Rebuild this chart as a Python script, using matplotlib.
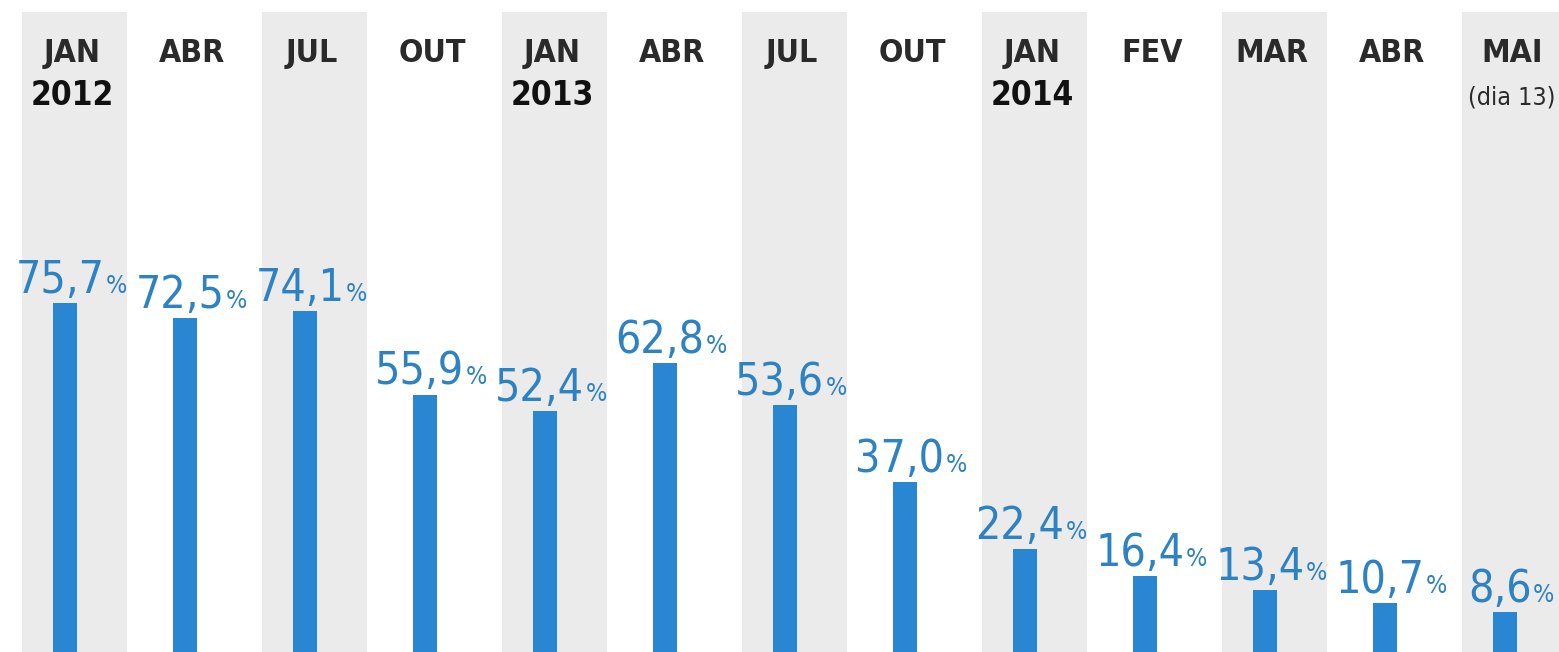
import matplotlib
matplotlib.use("Agg")
import matplotlib.pyplot as plt
from matplotlib import font_manager

months = ["JAN", "ABR", "JUL", "OUT", "JAN", "ABR", "JUL", "OUT", "JAN", "FEV", "MAR", "ABR", "MAI"]
sublabels = ["2012", "", "", "", "2013", "", "", "", "2014", "", "", "", "(dia 13)"]
values = [75.7, 72.5, 74.1, 55.9, 52.4, 62.8, 53.6, 37.0, 22.4, 16.4, 13.4, 10.7, 8.6]


def pick_family():
    for fam in ["Liberation Sans Narrow", "DejaVu Sans"]:
        try:
            font_manager.findfont(font_manager.FontProperties(family=fam), fallback_to_default=False)
            return fam
        except Exception:
            pass
    return "DejaVu Sans"


FAM = pick_family()
STRETCH = "condensed"

BAR_C = "#2986d2"
LAB_C = "#2d82c4"
GRAY = "#ebebeb"

W, H = 1559, 652
fig = plt.figure(figsize=(W / 100, H / 100), dpi=100)
ax = fig.add_axes([0, 0, 1, 1])
ax.set_xlim(-0.542, 12.45)
ax.set_ylim(0, 141.6)
ax.axis("off")

n = len(values)
xs = list(range(n))
# alternating gray columns
for i in xs:
    if i % 2 == 0:
        ax.bar(i + 0.08, 139, width=0.88, bottom=0, color=GRAY, zorder=0)

ax.bar(xs, values, width=0.2, color=BAR_C, zorder=2)

# headers
for i in xs:
    ax.text(i + 0.06, 128.1, months[i], ha="center", va="baseline", fontsize=23,
            family=FAM, stretch=STRETCH, color="#2a2a2a", fontweight="bold")
    if sublabels[i]:
        bold = sublabels[i].isdigit()
        ax.text(i + 0.06, 118.8, sublabels[i], ha="center", va="baseline",
                fontsize=24 if bold else 18, family=FAM, stretch=STRETCH,
                color="#111111" if bold else "#2a2a2a",
                fontweight="bold" if bold else "normal")

# value labels: number + small percent sign
pairs = []
for i, v in zip(xs, values):
    s = f"{v:.1f}".replace(".", ",")
    t = ax.text(i, v + 2.2, s, ha="left", va="baseline", fontsize=32,
                family=FAM, stretch=STRETCH, color=LAB_C)
    p = ax.text(i, v + 2.2, "%", ha="left", va="baseline", fontsize=18,
                family=FAM, stretch=STRETCH, color=LAB_C)
    pairs.append((i, t, p))

fig.canvas.draw()
r = fig.canvas.get_renderer()
px_per_x = W / (12.45 + 0.542)
gap = 1.0
for i, t, p in pairs:
    w1 = t.get_window_extent(r).width
    w2 = p.get_window_extent(r).width
    total = w1 + gap + w2
    left = i + 0.05 - (total / 2) / px_per_x
    t.set_x(left)
    p.set_x(left + (w1 + gap) / px_per_x)

fig.savefig("out.png", dpi=100, facecolor="white")
